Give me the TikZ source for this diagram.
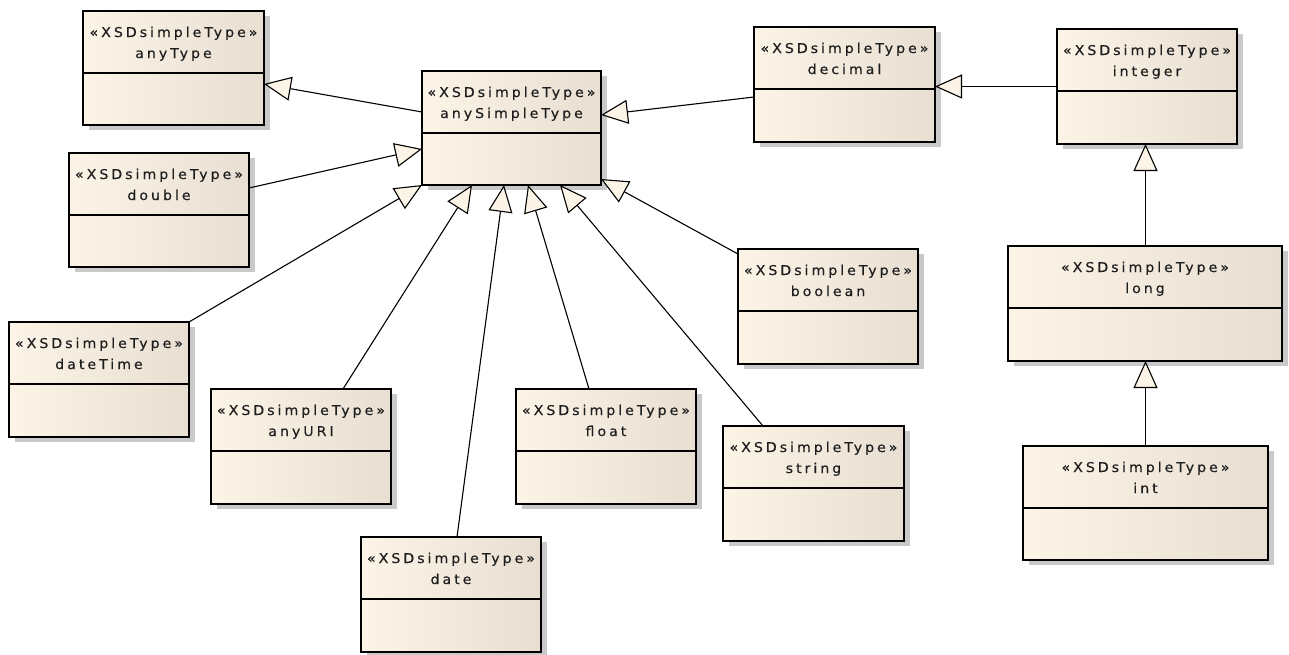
\documentclass[tikz,border=0pt]{standalone}
\usepackage{fontspec}
\setmainfont{DejaVu Sans}
\newfontfamily\umlfont[FakeStretch=1.05,LetterSpace=22,FakeBold=0.3]{DejaVu Sans}
\usetikzlibrary{arrows.meta,shadows}

\definecolor{boxlight}{HTML}{FCF4E7}
\definecolor{boxdark}{HTML}{E8DFD2}
\definecolor{shadowgray}{HTML}{C9C9C9}
\definecolor{textgray}{HTML}{1E1E1E}

\tikzset{
  classbox/.style={draw=black, line width=1.5pt, inner sep=0pt, outer sep=0pt,
    shading=axis, left color=boxlight, middle color=boxlight!60!boxdark, right color=boxdark,
    drop shadow={shadow xshift=6pt, shadow yshift=-5pt, fill=shadowgray, opacity=1}},
  divider/.style={draw=black, line width=1.3pt},
  classtext/.style={font=\umlfont\fontsize{13.5}{15}\selectfont, text=textgray,
    inner sep=0pt, anchor=base},
  generalization/.style={draw=black, line width=1.1pt,
    -{Triangle[length=27pt, width=24pt, fill=boxlight, line width=1.1pt]}},
}

% #1 name, #2 left, #3 top, #4 right, #5 bottom, #6 type name
\newcommand\umlclass[6]{%
  \node[classbox, minimum width={(#4-#2)*1pt}, minimum height={(#5-#3)*1pt}]
    (#1) at ({(#2+#4)/2},{(#3+#5)/2}) {};
  \draw[divider] ([yshift=-62pt]#1.north west) -- ([yshift=-62pt]#1.north east);
  \node[classtext] (#1-st) at ([yshift=-26pt]#1.north) {«XSDsimpleType»};
  \node[classtext] (#1-nm) at ([yshift=-47pt]#1.north) {#6};
}

\begin{document}
\begin{tikzpicture}[x=1pt,y=-1pt]
  \fill[white] (0,0) rectangle (1289,654);
  \useasboundingbox (0,0) rectangle (1289,654);

  % class boxes
  \umlclass{anyType}{83}{11}{264}{125}{anyType}
  \umlclass{anySimpleType}{422}{71}{601}{185}{anySimpleType}
  \umlclass{decimal}{754}{27}{935}{142}{decimal}
  \umlclass{integer}{1057}{29}{1237}{144}{integer}
  \umlclass{double}{69}{153}{249}{267}{double}
  \umlclass{dateTime}{9}{322}{189}{437}{dateTime}
  \umlclass{anyURI}{211}{389}{391}{504}{anyURI}
  \umlclass{date}{361}{537}{541}{652}{date}
  \umlclass{float}{516}{389}{696}{504}{float}
  \umlclass{boolean}{738}{249}{918}{364}{boolean}
  \umlclass{string}{723}{426}{904}{541}{string}
  \umlclass{long}{1008}{246}{1282}{361}{long}
  \umlclass{int}{1023}{446}{1268}{560}{int}

  % generalizations (child -> parent)
  \draw[generalization] ([yshift=16pt]anySimpleType.west) -- ([yshift=-16pt]anyType.east);
  \draw[generalization] ([yshift=22pt]double.east) -- ([yshift=-21pt]anySimpleType.west);
  \draw[generalization] (dateTime.north east) -- (anySimpleType.south west);
  \draw[generalization] ([xshift=42pt]anyURI.north) -- ([xshift=-39.5pt]anySimpleType.south);
  \draw[generalization] ([xshift=6pt]date.north) -- ([xshift=-7.5pt]anySimpleType.south);
  \draw[generalization] ([xshift=-17pt]float.north) -- ([xshift=16.5pt]anySimpleType.south);
  \draw[generalization] ([xshift=-50.5pt]string.north) -- ([xshift=48.5pt]anySimpleType.south);
  \draw[generalization] ([yshift=-5pt]boolean.north west) -- ([yshift=6pt]anySimpleType.south east);
  \draw[generalization] ([yshift=-12.5pt]decimal.west) -- ([yshift=13pt]anySimpleType.east);
  \draw[generalization] (integer.west) -- (integer.west -| decimal.east);
  \draw[generalization] ([xshift=0.5pt]long.north) -- ([xshift=0.5pt]long.north |- integer.south);
  \draw[generalization] (int.north) -- (int.north |- long.south);
\end{tikzpicture}
\end{document}
